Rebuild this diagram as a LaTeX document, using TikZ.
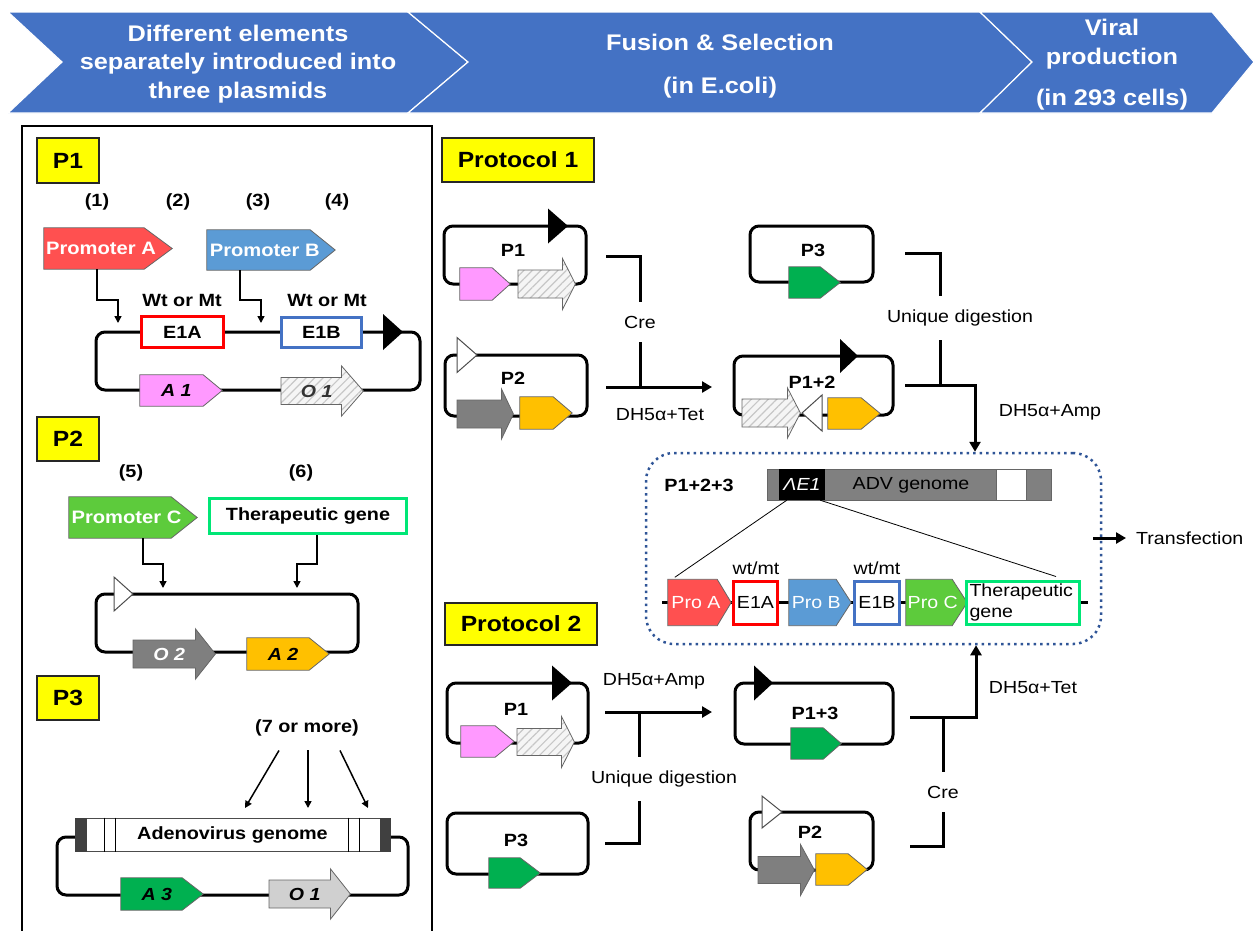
\documentclass[tikz,border=0pt]{standalone}
\usepackage{fontspec}
\setmainfont{Liberation Sans}[FakeStretch=1.12]
\usepackage{xcolor}
\usepackage{tikz}
\usetikzlibrary{arrows.meta,patterns.meta}
\definecolor{hdrblue}{HTML}{4472C4}
\definecolor{promred}{HTML}{FF5050}
\definecolor{promblue}{HTML}{5B9BD5}
\definecolor{promgreen}{HTML}{5DCB3C}
\definecolor{e1ared}{HTML}{FF0000}
\definecolor{e1bblue}{HTML}{4472C4}
\definecolor{thergreen}{HTML}{00E676}
\definecolor{pinkA}{HTML}{FF99FF}
\definecolor{orangeA}{HTML}{FFC000}
\definecolor{greenA}{HTML}{00B050}
\definecolor{grayO}{HTML}{7F7F7F}
\definecolor{lightO}{HTML}{D0D0D0}
\definecolor{advgray}{HTML}{808080}
\definecolor{dotblue}{HTML}{2F5597}
\definecolor{labyellow}{HTML}{FFFF00}

\newcommand{\genefont}{\fontsize{17.5}{20}\selectfont\bfseries\itshape}
\newcommand{\promfont}{\fontsize{18}{21}\selectfont\bfseries\color{white}}
\newcommand{\rowfont}{\fontsize{17.5}{20.5}\selectfont}

\newcommand{\pentgene}[8]{%
  \node[inner sep=0pt, minimum width=#4pt, minimum height=#5pt] (#1) at (#2,#3) {};
  \path[#7] (#1.north west) -- ([xshift=-#6pt]#1.north east) -- (#1.east)
    -- ([xshift=-#6pt]#1.south east) -- (#1.south west) -- cycle;
  \node[inner sep=0pt, xshift=-#6pt/4] at (#1.center) {#8};
}
\newcommand{\blockarrow}[9]{%
  \node[inner sep=0pt, minimum width=#4pt, minimum height=#6pt, anchor=west] (#1) at (#2,#3) {};
  \path[#8] ([yshift=#5pt/2]#1.west) -- ([xshift=-#7pt, yshift=#5pt/2]#1.east)
    -- ([xshift=-#7pt]#1.north east) -- (#1.east) -- ([xshift=-#7pt]#1.south east)
    -- ([xshift=-#7pt, yshift=-#5pt/2]#1.east) -- ([yshift=-#5pt/2]#1.west) -- cycle;
  \node[inner sep=0pt, xshift=-#7pt/4] at (#1.center) {#9};
}
\newcommand{\promtri}[6]{%
  \path[#6] (#2,{#4-#5/2}) -- (#3,#4) -- (#2,{#4+#5/2}) -- cycle;
  \coordinate (#1) at (#3,#4);
}

\tikzset{
  chevron/.style={fill=hdrblue, draw=white, line width=1.2pt},
  hdr/.style={font=\fontsize{22.6}{28.5}\selectfont\bfseries, text=white, align=center, inner sep=0pt},
  plabel/.style={draw=black!85, fill=labyellow, line width=1.2pt, inner sep=0pt, font=\fontsize{22}{26}\selectfont\bfseries},
  txt/.style={font=\fontsize{17.5}{20.5}\selectfont, inner sep=0pt},
  btxt/.style={font=\fontsize{17.7}{20.5}\selectfont\bfseries, inner sep=0pt},
  ebox/.style={btxt, fill=white, line width=3pt},
  ebox2/.style={txt, fill=white, line width=3pt},
  ring/.style={draw, line width=3pt, rounded corners=9pt},
  gene/.style={draw=black!60, line width=0.8pt},
  hatchgene/.style={gene, preaction={fill=black!4}, pattern={Lines[angle=45,distance=6pt,line width=1.2pt]}, pattern color=black!22},
  conn/.style={line width=1.5pt, -{Triangle[length=7pt, width=7pt]}},
  flow/.style={line width=3pt, -{Triangle[length=10pt, width=11pt]}},
  joinline/.style={line width=3pt}
}

\begin{document}
\begin{tikzpicture}[x=1pt, y=-1pt]
\useasboundingbox (0,0) rectangle (1255,930);

\path[chevron] (8,12) -- (408,12) -- (468,62) -- (408,113) -- (8,113) -- (62,62) -- cycle;
\path[chevron] (408,12) -- (980,12) -- (1032,62) -- (980,113) -- (408,113) -- (468,62) -- cycle;
\path[chevron] (980,12) -- (1212,12) -- (1254,62) -- (1212,113) -- (980,113) -- (1032,62) -- cycle;
\node[hdr] (stageA) at (238,64) {Different elements\\separately introduced into\\three plasmids};
\node[hdr] (stageB) at (720,66) {Fusion \& Selection\\[14pt](in E.coli)};
\node[hdr] (stageC) at (1112,65) {Viral\\production\\[13pt](in 293 cells)};

\draw[line width=2pt] (22,935) -- (22,126) -- (432,126) -- (432,935);

\node[plabel, minimum width=62pt, minimum height=45pt] (labP1) at (68,160.5) {P1};
\node[btxt] (n1) at (97,202) {(1)};
\node[btxt] (n2) at (178,202) {(2)};
\node[btxt] (n3) at (258,202) {(3)};
\node[btxt] (n4) at (337,202) {(4)};
\pentgene{proA}{108}{248.5}{128}{41}{28}{gene, fill=promred}{\promfont Promoter A}
\pentgene{proB}{271}{250}{128}{40}{25}{gene, fill=promblue}{\promfont Promoter B}
\draw[ring] (96,332) rectangle (420,390);
\node[btxt] (wtA) at (182,300) {Wt or Mt};
\node[btxt] (wtB) at (327,300) {Wt or Mt};
\node[ebox, draw=e1ared, minimum width=82pt, minimum height=31pt] (e1a) at (182.5,332) {E1A};
\node[ebox, draw=e1bblue, minimum width=80pt, minimum height=30pt] (e1b) at (321.5,332.5) {E1B};
\promtri{oriP1}{383}{403}{332}{36}{fill=black}
\pentgene{a1}{181}{390.5}{82}{31}{19}{gene, fill=pinkA}{\genefont A 1}
\blockarrow{o1}{281}{391}{82}{27}{50}{22}{hatchgene}{\genefont\color{black!80}O 1}
\coordinate (insA) at (118,323);
\coordinate (insB) at (261,323);
\draw[conn] ([xshift=-11pt]proA.south) -- ++(0,31) -| (insA);
\draw[conn] ([xshift=-31pt]proB.south) -- ++(0,30) -| (insB);

\node[plabel, minimum width=62pt, minimum height=44pt] (labP2) at (68,439) {P2};
\node[btxt] (n5) at (131,473) {(5)};
\node[btxt] (n6) at (301,473) {(6)};
\pentgene{proC}{133}{517.5}{128}{41}{26}{gene, fill=promgreen}{\promfont Promoter C}
\node[ebox, draw=thergreen, minimum width=197pt, minimum height=35pt] (ther) at (308,516) {Therapeutic gene};
\draw[ring] (96,594) rectangle (358,652);
\promtri{oriP2}{114}{133}{594}{34}{fill=white, draw=black!70, line width=1pt}
\blockarrow{o2}{133}{654}{82}{28}{50}{20}{gene, fill=grayO}{\genefont\color{white}O 2}
\pentgene{a2}{288}{654}{82}{32}{20}{gene, fill=orangeA}{\genefont A 2}
\coordinate (insC) at (163,588);
\coordinate (insT) at (297,588);
\draw[conn] ([xshift=10pt]proC.south) -- ++(0,26) -| (insC);
\draw[conn] ([xshift=9pt]ther.south) -- ++(0,29) -| (insT);

\node[plabel, minimum width=62pt, minimum height=44pt] (labP3) at (68,698) {P3};
\node[btxt] (more) at (307,728) {(7 or more)};
\draw[ring] (57,837) rectangle (408,895);
\node[btxt, draw=black!70, fill=white, line width=1pt, minimum width=315pt, minimum height=33pt] (adv) at (232.5,834.5) {Adenovirus genome};
\fill[black!75] (adv.north west) rectangle ([xshift=12pt]adv.south west);
\fill[black!75] (adv.north east) rectangle ([xshift=-11pt]adv.south east);
\foreach \dx in {30,41}
  \draw[line width=0.8pt] ([xshift=\dx pt]adv.north west) -- ([xshift=\dx pt]adv.south west);
\foreach \dx in {31,42}
  \draw[line width=0.8pt] ([xshift=-\dx pt]adv.north east) -- ([xshift=-\dx pt]adv.south east);
\coordinate (t1) at (245,808);
\coordinate (t2) at (308,808);
\coordinate (t3) at (368,808);
\draw[conn] ([xshift=-28pt, yshift=-14pt]more.south) -- (t1);
\draw[conn] ([xshift=1pt, yshift=-14pt]more.south) -- (t2);
\draw[conn] ([xshift=33pt, yshift=-14pt]more.south) -- (t3);
\pentgene{a3}{162}{894}{82}{32}{21}{gene, fill=greenA}{\genefont A 3}
\blockarrow{o1b}{269}{894}{81}{28}{50}{20}{gene, fill=lightO}{\genefont O 1}

\node[draw=dotblue, line width=2.5pt, dash pattern=on 2.5pt off 4pt, rounded corners=28pt, minimum width=455pt, minimum height=191pt, inner sep=0pt] (final) at (873.5,548.5) {};
\node[btxt] (p123) at (699,485) {P1+2+3};
\node[fill=advgray, draw=black!60, line width=0.8pt, minimum width=284pt, minimum height=31pt, inner sep=0pt] (advbar) at (909,484.5) {};
\node[txt, fill=black, text=white, minimum width=46pt, minimum height=31pt] (dE1) at (802,484.5) {\itshape ΛE1};
\node[fill=white, draw=black!60, line width=0.8pt, minimum width=30pt, minimum height=31pt, inner sep=0pt] (wseg) at (1011,484.5) {};
\node[txt] (advtxt) at (911,485) {ADV genome};
\coordinate (rowL) at (662,602.5);
\coordinate (rowR) at (1088,602.5);
\draw[line width=3pt] (rowL) -- (rowR);
\pentgene{gProA}{699.5}{602.5}{63}{46}{14}{gene, fill=promred}{\rowfont\color{white}Pro A}
\node[ebox2, draw=e1ared, minimum width=44pt, minimum height=43pt] (gE1A) at (755.5,602.5) {E1A};
\pentgene{gProB}{820}{602.5}{62}{46}{15}{gene, fill=promblue}{\rowfont\color{white}Pro B}
\node[ebox2, draw=e1bblue, minimum width=45pt, minimum height=43pt] (gE1B) at (877,602.5) {E1B};
\pentgene{gProC}{936.5}{602.5}{61}{46}{15}{gene, fill=promgreen}{\rowfont\color{white}Pro C}
\node[ebox2, draw=thergreen, minimum width=113pt, minimum height=43pt, text width=107pt, align=left] (gTher) at (1023,602.5) {Therapeutic\\gene};
\node[txt] (wt1) at (756,568) {wt/mt};
\node[txt] (wt2) at (877,568) {wt/mt};
\draw[line width=0.8pt] ([xshift=8pt]dE1.south west) -- ([xshift=7pt, yshift=2pt]gProA.north west);
\draw[line width=0.8pt] ([xshift=-5pt]dE1.south east) -- ([xshift=-25pt, yshift=3pt]gTher.north east);
\node[txt, anchor=west] (transf) at (1136,538) {Transfection};
\coordinate (tfs) at (1093,538);
\draw[flow] (tfs) -- ([xshift=-10pt]transf.west);

\node[plabel, minimum width=152pt, minimum height=44pt] (prot1) at (518,160) {Protocol 1};
\draw[ring] (444,226) rectangle (586,284);
\promtri{oriA}{548}{568}{226}{35}{fill=black}
\node[btxt] (r1p1) at (513,250) {P1};
\pentgene{r1a1}{485}{284}{50}{32}{18}{gene, fill=pinkA}{}
\blockarrow{r1o1}{518}{284}{57}{28}{51}{13}{hatchgene}{}
\draw[ring] (445,355) rectangle (587,416);
\promtri{oriB}{457}{477}{355}{35}{fill=white, draw=black!70, line width=1pt}
\node[btxt] (r1p2) at (513,378) {P2};
\blockarrow{r1o2}{457}{414}{56}{28}{50}{12}{gene, fill=grayO}{}
\pentgene{r1a2}{546}{413}{52}{32}{19}{gene, fill=orangeA}{}
\node[txt] (cre1) at (640,322) {Cre};
\coordinate (cre1s) at (606,256);
\coordinate (cre1m) at (606,387);
\coordinate (cre1e) at (712,387);
\draw[joinline] (cre1s) -| ([yshift=14pt]cre1.north);
\draw[joinline] ([yshift=-14pt]cre1.south) -- (cre1.south |- cre1m);
\draw[flow] (cre1m) -- (cre1e);
\node[txt] (tet1) at (660,415) {DH5α+Tet};

\draw[ring] (750,226) rectangle (873,282);
\node[btxt] (r1p3) at (813,250) {P3};
\pentgene{r1a3}{814.5}{282.5}{51}{31}{20}{gene, fill=greenA}{}
\draw[ring] (734,356) rectangle (893,415);
\promtri{oriC}{840}{858}{356}{34}{fill=black}
\node[btxt] (r1p12) at (812,382) {P1+2};
\blockarrow{r1o1b}{742}{413}{58}{28}{50}{13}{hatchgene}{}
\promtri{loxC}{822}{802}{413}{36}{fill=white, draw=black!70, line width=1pt}
\pentgene{r1a2b}{854}{413.5}{52}{31}{19}{gene, fill=orangeA}{}
\node[txt] (dig1) at (960,318) {Unique digestion};
\coordinate (dig1s) at (905,253);
\coordinate (dig1m) at (905,385);
\coordinate (dig1c) at (975,385);
\draw[joinline] (dig1s) -| ([xshift=-20pt, yshift=14pt]dig1.north);
\draw[joinline] ([xshift=-20pt, yshift=-14pt]dig1.south) coordinate (dig1v) -- (dig1v |- dig1m);
\draw[flow] (dig1m) -| (dig1c |- final.north);
\node[txt] (amp1) at (1050,412) {DH5α+Amp};

\node[plabel, minimum width=152pt, minimum height=42pt] (prot2) at (521,624) {Protocol 2};
\draw[ring] (447,683) rectangle (588,743);
\promtri{oriD}{552}{572}{683}{35}{fill=black}
\node[btxt] (r2p1) at (516,709) {P1};
\pentgene{r2a1}{487.5}{741.5}{53}{31}{19}{gene, fill=pinkA}{}
\blockarrow{r2o1}{517}{742}{57}{27}{51}{13}{hatchgene}{}
\draw[ring] (447,813) rectangle (588,874);
\node[btxt] (r2p3) at (516,840) {P3};
\pentgene{r2a3}{514.5}{873}{51}{30}{20}{gene, fill=greenA}{}
\node[txt] (amp2) at (654,681) {DH5α+Amp};
\node[txt] (dig2) at (664,779) {Unique digestion};
\coordinate (dig2s) at (605,712);
\coordinate (dig2v) at (639,712);
\coordinate (dig2e) at (712,712);
\coordinate (dig2b) at (605,843);
\draw[flow] (dig2s) -- (dig2e);
\draw[joinline] (dig2v) -- ([xshift=-25pt, yshift=14pt]dig2.north);
\draw[joinline] ([xshift=-25pt, yshift=-14pt]dig2.south) |- (dig2b);

\draw[ring] (735,683) rectangle (893,744);
\promtri{oriE}{754}{773}{683}{35}{fill=black}
\node[btxt] (r2p13) at (815,713) {P1+3};
\pentgene{r2a3b}{816}{743.5}{50}{31}{18}{gene, fill=greenA}{}
\draw[ring] (750,812) rectangle (873,870);
\promtri{oriF}{762}{782}{812}{32}{fill=white, draw=black!70, line width=1pt}
\node[btxt] (r2p2) at (810,832) {P2};
\blockarrow{r2o2}{758}{870}{56}{27}{51}{14}{gene, fill=grayO}{}
\pentgene{r2a2}{841.5}{869.5}{51}{31}{19}{gene, fill=orangeA}{}
\node[txt] (cre2) at (943,792) {Cre};
\node[txt] (tet2) at (1033,688) {DH5α+Tet};
\coordinate (cre2s) at (910,717);
\coordinate (cre2v) at (943,717);
\coordinate (cre2c) at (976,717);
\coordinate (cre2b) at (910,846);
\draw[flow] (cre2s) -| (cre2c |- final.south);
\draw[joinline] (cre2v) -- ([yshift=14pt]cre2.north);
\draw[joinline] ([yshift=-14pt]cre2.south) |- (cre2b);
\end{tikzpicture}
\end{document}
